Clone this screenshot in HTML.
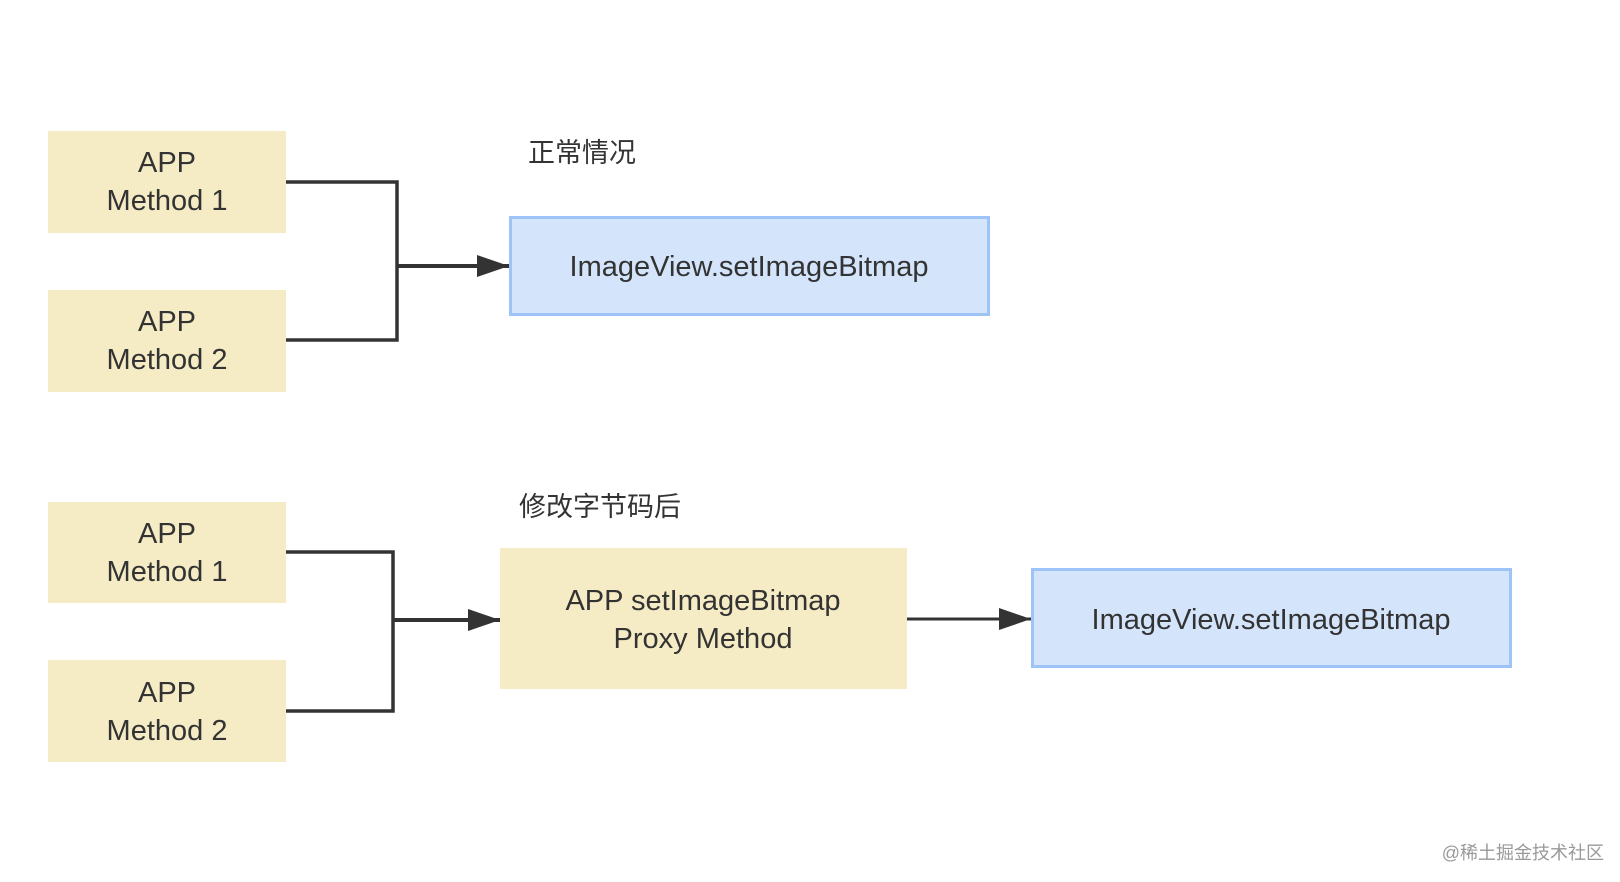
<!DOCTYPE html>
<html><head><meta charset="utf-8"><style>
html,body{margin:0;padding:0;background:#fff;}
svg{display:block;}
text{font-family:"Liberation Sans","Noto Sans CJK SC",sans-serif;fill:#333;}
</style></head><body>
<svg width="1620" height="882" viewBox="0 0 1620 882" xmlns="http://www.w3.org/2000/svg">
<defs><marker id="ar" markerWidth="10" markerHeight="10" refX="9" refY="5" orient="auto" markerUnits="userSpaceOnUse" viewBox="0 0 10 10"><path d="M0,0 L10,5 L0,10 z" fill="#333"/></marker>
<marker id="a2" viewBox="0 0 32 22" refX="32" refY="11" markerWidth="32" markerHeight="22" orient="auto" markerUnits="userSpaceOnUse"><path d="M0,0 L32,11 L0,22 z" fill="#333"/></marker></defs>
<g font-size="29" text-anchor="middle">
<rect x="48" y="131" width="238" height="102" fill="#f5ecc5"/>
<text x="167" y="172">APP</text><text x="167" y="210">Method 1</text>
<rect x="48" y="290" width="238" height="102" fill="#f5ecc5"/>
<text x="167" y="331">APP</text><text x="167" y="369">Method 2</text>
<path d="M286 182 H397 V340 H286" fill="none" stroke="#333" stroke-width="3.5"/>
<path d="M397 266 H509" fill="none" stroke="#333" stroke-width="4" marker-end="url(#a2)"/>
<rect x="510.5" y="217.5" width="478" height="97" fill="#d4e5fb" stroke="#9dc3f7" stroke-width="3"/>
<text x="749" y="276">ImageView.setImageBitmap</text>
<text x="528" y="162" text-anchor="start" font-size="27">正常情况</text>

<rect x="48" y="502" width="238" height="101" fill="#f5ecc5"/>
<text x="167" y="543">APP</text><text x="167" y="581">Method 1</text>
<rect x="48" y="660" width="238" height="102" fill="#f5ecc5"/>
<text x="167" y="702">APP</text><text x="167" y="740">Method 2</text>
<path d="M286 552 H393 V711 H286" fill="none" stroke="#333" stroke-width="3.5"/>
<path d="M393 620 H500" fill="none" stroke="#333" stroke-width="4" marker-end="url(#a2)"/>
<rect x="500" y="548" width="407" height="141" fill="#f5ecc5"/>
<text x="703" y="610">APP setImageBitmap</text><text x="703" y="648">Proxy Method</text>
<path d="M907 619 H1031" fill="none" stroke="#333" stroke-width="3" marker-end="url(#a2)"/>
<rect x="1032.5" y="569.5" width="478" height="97" fill="#d4e5fb" stroke="#9dc3f7" stroke-width="3"/>
<text x="1271" y="629">ImageView.setImageBitmap</text>
<text x="519" y="516" text-anchor="start" font-size="27">修改字节码后</text>
<text x="1604" y="859" text-anchor="end" font-size="18" style="fill:#999">@稀土掘金技术社区</text>
</g>
</svg>
</body></html>
